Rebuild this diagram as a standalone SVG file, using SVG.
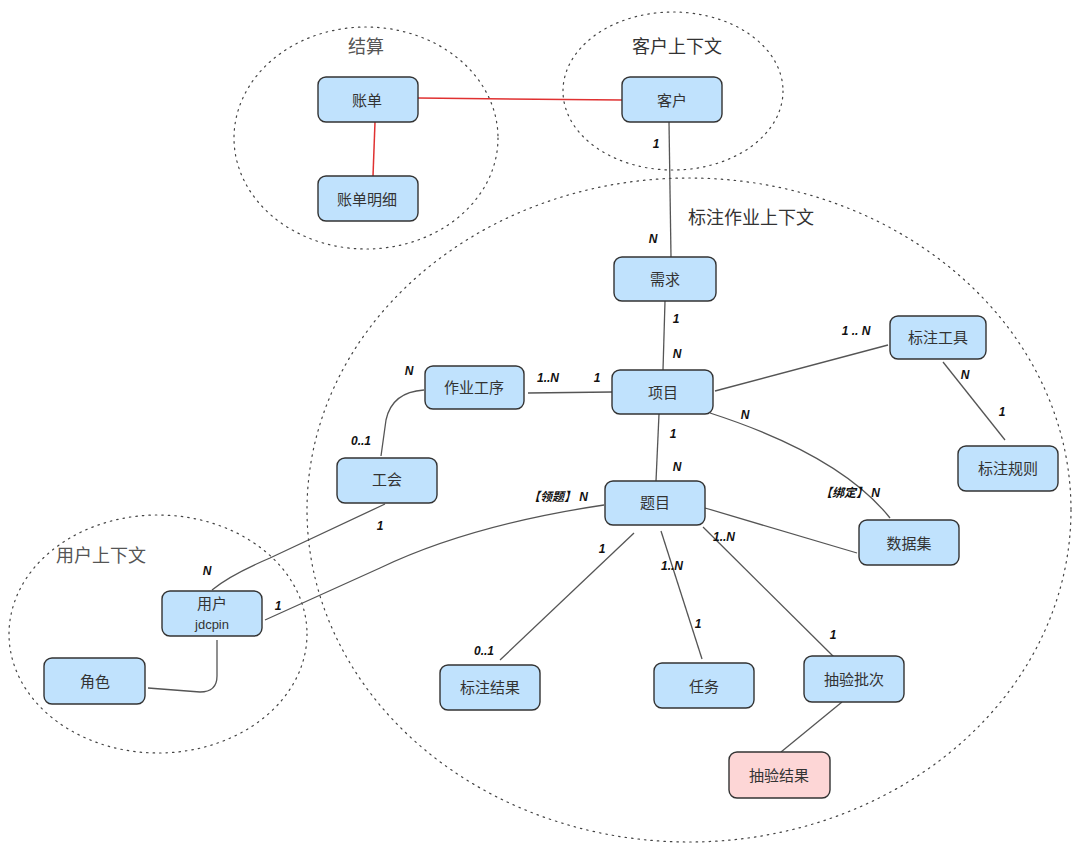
<svg xmlns="http://www.w3.org/2000/svg" width="1080" height="854" viewBox="0 0 1080 854">
<style>
.ctx{fill:none;stroke:#444;stroke-width:1.2;stroke-dasharray:1.5 5;stroke-linecap:round}
.title{font-family:"Liberation Sans","Noto Sans CJK SC",sans-serif;font-size:18px;fill:#333;text-anchor:middle}
.box{fill:#c0e2fd;stroke:#333;stroke-width:1.4}
.pink{fill:#fdd6d6;stroke:#333;stroke-width:1.4}
.lbl{font-family:"Liberation Sans","Noto Sans CJK SC",sans-serif;font-size:15px;fill:#333;text-anchor:middle;dominant-baseline:central}
.ln{fill:none;stroke:#555;stroke-width:1.3}
.red{fill:none;stroke:#e03131;stroke-width:1.5}
.card{font-family:"Liberation Sans","Noto Sans CJK SC",sans-serif;font-size:12px;fill:#111;font-style:italic;font-weight:bold;text-anchor:middle}
</style>
<rect width="1080" height="854" fill="#fff"/>
<g id="contexts">
<ellipse class="ctx" cx="366" cy="138" rx="132" ry="111"/>
<ellipse class="ctx" cx="673" cy="91" rx="110" ry="79"/>
<ellipse class="ctx" cx="689" cy="510" rx="382" ry="332"/>
<ellipse class="ctx" cx="158" cy="634" rx="149" ry="119"/>
<text class="title" x="366" y="53" style="fill:#555">结算</text>
<text class="title" x="677" y="53">客户上下文</text>
<text class="title" x="751" y="224">标注作业上下文</text>
<text class="title" x="101" y="562" style="fill:#555">用户上下文</text>
</g>
<g id="connectors">
<path class="red" d="M418 98 L622 100"/>
<path class="red" d="M375 122 L373 176"/>
<path class="ln" d="M669 122 L671 257"/>
<path class="ln" d="M665 301 L663 370"/>
<path class="ln" d="M528 393 L612 392"/>
<path class="ln" d="M715 391 L888 345"/>
<path class="ln" d="M943 362 L1005 440"/>
<path class="ln" d="M710 413 Q840 455 890 518"/>
<path class="ln" d="M659 414 L656 481"/>
<path class="ln" d="M424 390 Q392 392 386 420 L381 456"/>
<path class="ln" d="M385 504 L270 558 Q230 575 212 590"/>
<path class="ln" d="M265 620 L380 568 Q470 525 604 505"/>
<path class="ln" d="M217 640 L217 676 Q217 692 200 692 L148 688"/>
<path class="ln" d="M705 508 L857 553"/>
<path class="ln" d="M634 533 L500 660"/>
<path class="ln" d="M661 531 L702 659"/>
<path class="ln" d="M703 527 L838 661"/>
<path class="ln" d="M842 702 L781 752"/>
<text class="card" x="656" y="148">1</text>
<text class="card" x="653" y="243">N</text>
<text class="card" x="676" y="323">1</text>
<text class="card" x="677" y="358">N</text>
<text class="card" x="548" y="382">1..N</text>
<text class="card" x="597" y="382">1</text>
<text class="card" x="856" y="335">1 .. N</text>
<text class="card" x="965" y="379">N</text>
<text class="card" x="1002" y="416">1</text>
<text class="card" x="745" y="419">N</text>
<text class="card" x="850" y="497">【绑定】 N</text>
<text class="card" x="673" y="438">1</text>
<text class="card" x="677" y="471">N</text>
<text class="card" x="409" y="375">N</text>
<text class="card" x="361" y="445">0..1</text>
<text class="card" x="380" y="530">1</text>
<text class="card" x="207" y="575">N</text>
<text class="card" x="278" y="610">1</text>
<text class="card" x="558" y="501">【领题】 N</text>
<text class="card" x="602" y="553">1</text>
<text class="card" x="484" y="655">0..1</text>
<text class="card" x="672" y="570">1..N</text>
<text class="card" x="698" y="628">1</text>
<text class="card" x="724" y="541">1..N</text>
<text class="card" x="833" y="639">1</text>
</g>
<g id="n-zhangdan"><rect class="box" x="318" y="77" width="100" height="45" rx="8"/><text class="lbl" x="367" y="100">账单</text></g>
<g id="n-zhangdanmingxi"><rect class="box" x="318" y="176" width="100" height="45" rx="8"/><text class="lbl" x="367" y="199">账单明细</text></g>
<g id="n-kehu"><rect class="box" x="622" y="77" width="100" height="45" rx="8"/><text class="lbl" x="672" y="100">客户</text></g>
<g id="n-xuqiu"><rect class="box" x="614" y="257" width="102" height="44" rx="8"/><text class="lbl" x="665" y="279">需求</text></g>
<g id="n-xiangmu"><rect class="box" x="612" y="370" width="101" height="44" rx="8"/><text class="lbl" x="663" y="392">项目</text></g>
<g id="n-zuoyegongxu"><rect class="box" x="425" y="366" width="99" height="43" rx="8"/><text class="lbl" x="474" y="387">作业工序</text></g>
<g id="n-biaozhugongju"><rect class="box" x="890" y="316" width="96" height="43" rx="8"/><text class="lbl" x="938" y="337">标注工具</text></g>
<g id="n-biaozhuguize"><rect class="box" x="958" y="446" width="100" height="45" rx="8"/><text class="lbl" x="1008" y="468">标注规则</text></g>
<g id="n-gonghui"><rect class="box" x="337" y="458" width="100" height="45" rx="8"/><text class="lbl" x="387" y="479">工会</text></g>
<g id="n-timu"><rect class="box" x="605" y="481" width="100" height="44" rx="8"/><text class="lbl" x="655" y="502">题目</text></g>
<g id="n-shujuji"><rect class="box" x="859" y="520" width="100" height="45" rx="8"/><text class="lbl" x="909" y="543">数据集</text></g>
<g id="n-yonghu"><rect class="box" x="162" y="591" width="100" height="45" rx="8"/><text class="lbl" x="212" y="603">用户</text><text class="lbl" x="212" y="624" style="font-size:13px">jdcpin</text></g>
<g id="n-juese"><rect class="box" x="44" y="658" width="101" height="46" rx="8"/><text class="lbl" x="95" y="681">角色</text></g>
<g id="n-biaozhujieguo"><rect class="box" x="440" y="665" width="100" height="45" rx="8"/><text class="lbl" x="490" y="687">标注结果</text></g>
<g id="n-renwu"><rect class="box" x="654" y="663" width="100" height="45" rx="8"/><text class="lbl" x="704" y="686">任务</text></g>
<g id="n-choyanpici"><rect class="box" x="804" y="656" width="100" height="46" rx="8"/><text class="lbl" x="854" y="679">抽验批次</text></g>
<g id="n-choyanjieguo"><rect class="pink" x="729" y="752" width="101" height="46" rx="8"/><text class="lbl" x="779" y="775">抽验结果</text></g>
</svg>
